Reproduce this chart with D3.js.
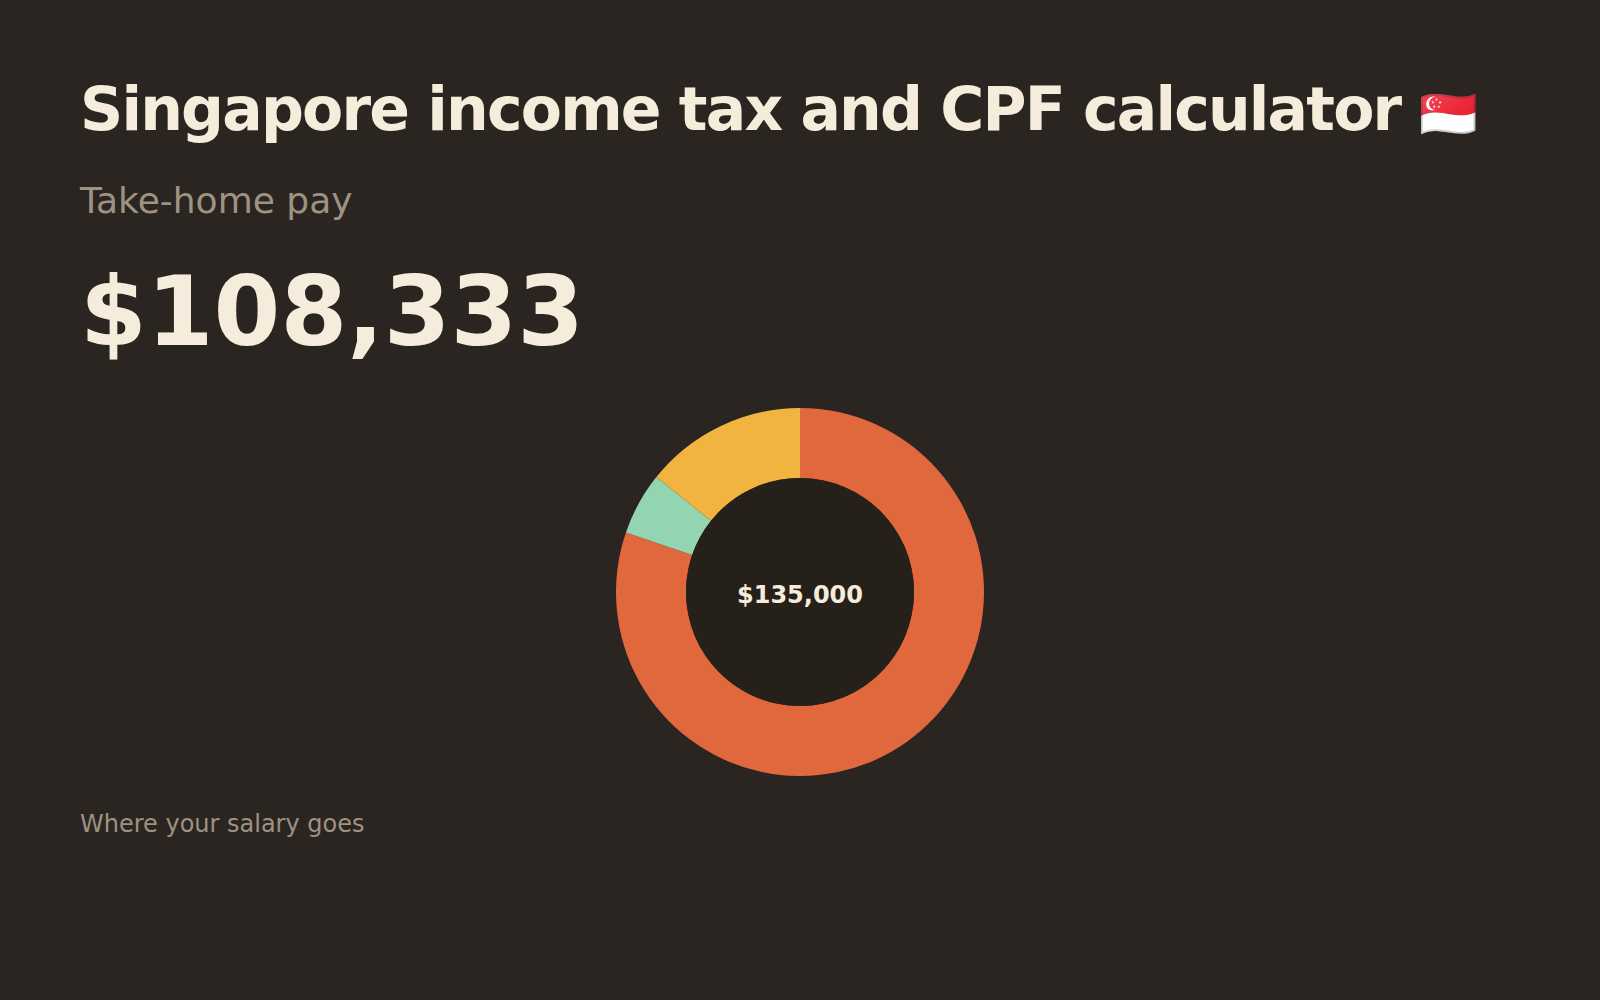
<!doctype html>
<html lang="en">
<head>
  <meta charset="utf-8">
  <title>Singapore income tax and CPF calculator</title>
  <script src="https://d3js.org/d3.v7.min.js"></script>
  <style>
    body {
      margin: 0px;
      background: #2a2520;
      font-family: "DejaVu Sans", sans-serif;
    }
  </style>
</head>
<body>
  <div id="container"></div>

  <script>
    // chart values
    var categories = ["Take-home pay", "Income tax", "CPF contribution"];
    var amounts = [108333, 7417, 19250];
    var sliceColors = ["#e0683c", "#93d4b1", "#f2b441"];
    var grossSalary = 135000;
    var takeHome = 108333;

    var width = 1600, height = 1000,
        cx = 800, cy = 592,
        outerRadius = 184,
        innerRadius = 114;

    var fmt = d3.format("$,.0f");

    var svg = d3.select("div#container").append("svg")
      .attr("width", width)
      .attr("height", height)
      .style("display", "block");

    svg.append("rect")
      .attr("width", width)
      .attr("height", height)
      .attr("fill", "#2a2520");

    // headings
    var title = svg.append("text")
      .attr("x", 80)
      .attr("y", 130)
      .attr("fill", "#f5ecdc")
      .style("font-size", "60px")
      .style("font-weight", "bold")
      .style("letter-spacing", "-1.8px");
    title.append("tspan").text("Singapore income tax and CPF calculator ");
    title.append("tspan")
      .style("font-size", "47px")
      .style("letter-spacing", "0px")
      .text("🇸🇬");

    svg.append("text")
      .attr("x", 80)
      .attr("y", 213)
      .attr("fill", "#9e9282")
      .style("font-size", "36px")
      .text("Take-home pay");

    svg.append("text")
      .attr("x", 80)
      .attr("y", 345)
      .attr("fill", "#f5ecdc")
      .style("font-size", "96px")
      .style("font-weight", "bold")
      .text(fmt(takeHome));

    // donut
    var data = categories.map(function(c, i) {
      return { name: c, value: amounts[i], color: sliceColors[i] };
    });

    var pie = d3.pie()
      .sort(null)
      .value(function(d) { return d.value; });

    var arc = d3.arc()
      .innerRadius(innerRadius)
      .outerRadius(outerRadius);

    var g = svg.append("g")
      .attr("transform", "translate(" + cx + "," + cy + ")");

    g.selectAll("path")
      .data(pie(data))
      .enter()
      .append("path")
        .attr("d", arc)
        .attr("fill", function(d) { return d.data.color; });

    g.append("circle")
      .attr("r", innerRadius)
      .attr("fill", "#26201b");

    g.append("text")
      .attr("y", 11)
      .attr("text-anchor", "middle")
      .attr("fill", "#f5ecdc")
      .style("font-size", "24px")
      .style("font-weight", "bold")
      .text(fmt(grossSalary));

    svg.append("text")
      .attr("x", 80)
      .attr("y", 832)
      .attr("fill", "#9e9282")
      .style("font-size", "24px")
      .text("Where your salary goes");
  </script>
</body>
</html>
